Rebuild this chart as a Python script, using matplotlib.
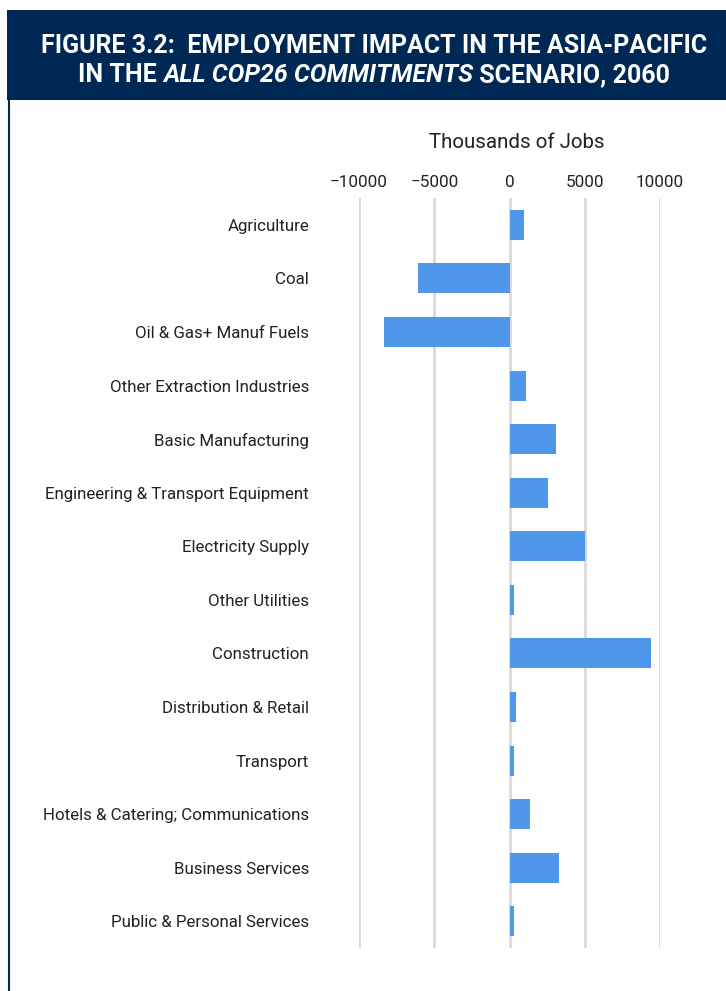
import matplotlib.pyplot as plt
from matplotlib.patches import Rectangle
from matplotlib.lines import Line2D

# Sector employment change, thousands of jobs
sectors = [
    "Agriculture",
    "Coal",
    "Oil & Gas+ Manuf Fuels",
    "Other Extraction Industries",
    "Basic Manufacturing",
    "Engineering & Transport Equipment",
    "Electricity Supply",
    "Other Utilities",
    "Construction",
    "Distribution & Retail",
    "Transport",
    "Hotels & Catering; Communications",
    "Business Services",
    "Public & Personal Services",
]
jobs = [980, -6100, -8330, 1100, 3060, 2530, 5030, 270, 9400, 400, 330, 1350, 3270, 270]
xticks = [-10000, -5000, 0, 5000, 10000]
xtick_labels = ["\u221210000", "\u22125000", "0", "5000", "10000"]

plt.rcParams["font.family"] = ["Roboto", "DejaVu Sans"]

navy = "#002855"
blue = "#4f97ea"
W, H = 726, 991
fig = plt.figure(figsize=(W / 100, H / 100), dpi=100)
renderer = fig.canvas.get_renderer()

# header band and left rule
fig.patches.append(Rectangle((7 / W, 1 - 100 / H), 1, 90 / H, transform=fig.transFigure,
                             facecolor=navy, edgecolor="none"))
fig.lines.append(Line2D([8.5 / W, 8.5 / W], [0, 1 - 100 / H], transform=fig.transFigure,
                        color=navy, lw=1.5))

# title line 1, sized to the width of the original header text
t1 = fig.text(374 / W, 1 - 46 / H, "FIGURE 3.2:  EMPLOYMENT IMPACT IN THE ASIA-PACIFIC",
              color="white", fontsize=22, fontweight="bold", ha="center", va="center")
tsize = 22 * 664 / t1.get_window_extent(renderer).width
t1.set_fontsize(tsize)

# title line 2 with italic scenario name
parts = [("IN THE ", "normal"), ("ALL COP26 COMMITMENTS", "italic"), (" SCENARIO, 2060", "normal")]
texts = []
for s, st in parts:
    t = fig.text(0, 1 - 75 / H, s, color="white", fontsize=tsize, fontweight="bold",
                 fontstyle=st, ha="left", va="center")
    texts.append(t)
widths = [t.get_window_extent(renderer).width for t in texts]
x = 374 - sum(widths) / 2
for t, w in zip(texts, widths):
    t.set_x(x / W)
    x += w

ax = fig.add_axes([359 / W, 1 - 948 / H, 301 / W, 750 / H])
ax.barh(range(len(sectors)), jobs, height=0.56, color=blue, zorder=3)
ax.set_xlim(-10000, 10000)
ax.set_ylim(len(sectors) - 0.5, -0.5)
ax.set_xticks(xticks)
ax.set_xticklabels(xtick_labels)
ax.set_yticks(range(len(sectors)))
ax.set_yticklabels(sectors)
ax.xaxis.tick_top()
fig.text(517 / W, 1 - 142 / H, "Thousands of Jobs", fontsize=14.8, color="#222222",
         ha="center", va="center")
ax.tick_params(axis="x", length=0, pad=6, labelsize=12.3, labelcolor="#222222")
ax.tick_params(axis="y", length=0, pad=36, labelsize=12.2, labelcolor="#222222")
ax.grid(axis="x", color="#d9d9d9", lw=2, zorder=0)
for sp in ax.spines.values():
    sp.set_visible(False)

fig.savefig("out.png", dpi=100)
